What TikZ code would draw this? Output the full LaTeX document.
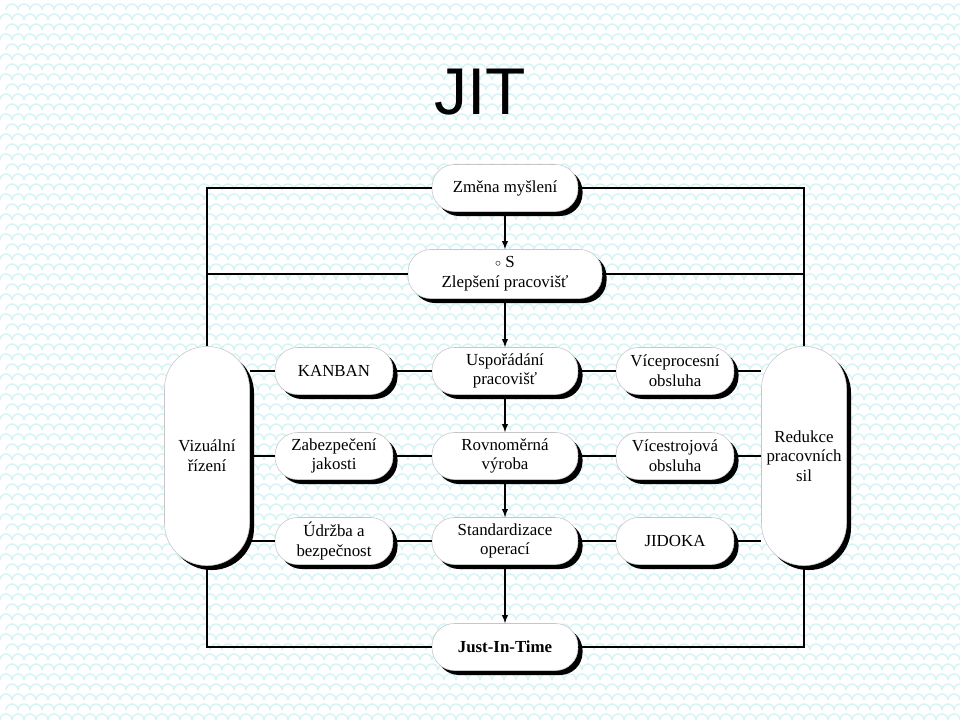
\documentclass[tikz,border=0pt]{standalone}
\usepackage{fontspec}
\setmainfont{Liberation Serif}
\newfontfamily\titlefont{Liberation Sans}
\usetikzlibrary{shadows}
\definecolor{bgline}{RGB}{214,244,246}
\begin{document}
\begin{tikzpicture}[x=0.025cm,y=-0.025cm,
  box/.style={draw=gray!45, fill=white, rounded corners=16pt, align=center,
    font=\fontsize{12}{14}\selectfont, minimum width=2.95cm, minimum height=1.175cm, inner sep=1pt,
    drop shadow={shadow xshift=3.2pt, shadow yshift=-3.2pt, fill=black, opacity=1}},
  widebox/.style={box, minimum width=3.65cm},
  tallbox/.style={box, rounded corners=30pt, minimum width=2.125cm, minimum height=5.475cm},
  link/.style={line width=1pt},
  flow/.style={line width=1pt, -latex}]
\useasboundingbox (0,0) rectangle (960,720);
% background scales
\fill[white] (0,0) rectangle (960,720);
\foreach \r in {0,...,72}
  \foreach \c in {0,...,80}{
    \pgfmathsetmacro\xo{\c*12+mod(\r,2)*6}
    \draw[bgline, line width=1pt] (\xo,\r*10) arc[start angle=180, end angle=360, radius=6];
  }

\node[font=\titlefont\fontsize{47}{50}\selectfont] (title) at (480,92) {JIT};

\node[widebox] (zmena) at (505,188) {Změna myšlení};
\node[box, minimum width=4.85cm, minimum height=1.225cm] (five) at (505,274)
  {\raisebox{1pt}{$\scriptstyle\circ$} S\\Zlepšení pracovišť};

\node[box] (kanban) at (334,371) {KANBAN};
\node[widebox] (usp) at (505,371) {Uspořádání\\pracovišť};
\node[box] (vice) at (675,371) {Víceprocesní\\obsluha};

\node[box] (zab) at (334,456) {Zabezpečení\\jakosti};
\node[widebox] (rovn) at (505,456) {Rovnoměrná\\výroba};
\node[box] (vices) at (675,456) {Vícestrojová\\obsluha};

\node[box] (udr) at (334,541) {Údržba a\\bezpečnost};
\node[widebox] (stand) at (505,541) {Standardizace\\operací};
\node[box] (jidoka) at (675,541) {JIDOKA};

\node[widebox, font=\fontsize{12}{14}\selectfont\bfseries] (jit) at (505,647) {Just-In-Time};

\node[tallbox] (viz) at (207,456) {Vizuální\\řízení};
\node[tallbox] (red) at (804,456) {Redukce\\pracovních\\sil};

% frame lines
\draw[link] (viz.north) |- (zmena.west);
\draw[link] (red.north) |- (zmena.east);
\draw[link] (viz.north |- five.west) -- (five.west) (five.east) -- (red.north |- five.east);
\draw[link] (viz.south) |- (jit.west);
\draw[link] (red.south) |- (jit.east);
\foreach \a/\b/\c in {kanban/usp/vice, zab/rovn/vices, udr/stand/jidoka}
  \draw[link] (viz.east |- \a.west) -- (\a.west) (\a.east) -- (\b.west)
    (\b.east) -- (\c.west) (\c.east) -- (red.west |- \c.east);

% main flow
\draw[flow] (zmena) -- (five);
\draw[flow] (five) -- (usp);
\draw[flow] (usp) -- (rovn);
\draw[flow] (rovn) -- (stand);
\draw[flow] (stand) -- (jit);
\end{tikzpicture}
\end{document}
